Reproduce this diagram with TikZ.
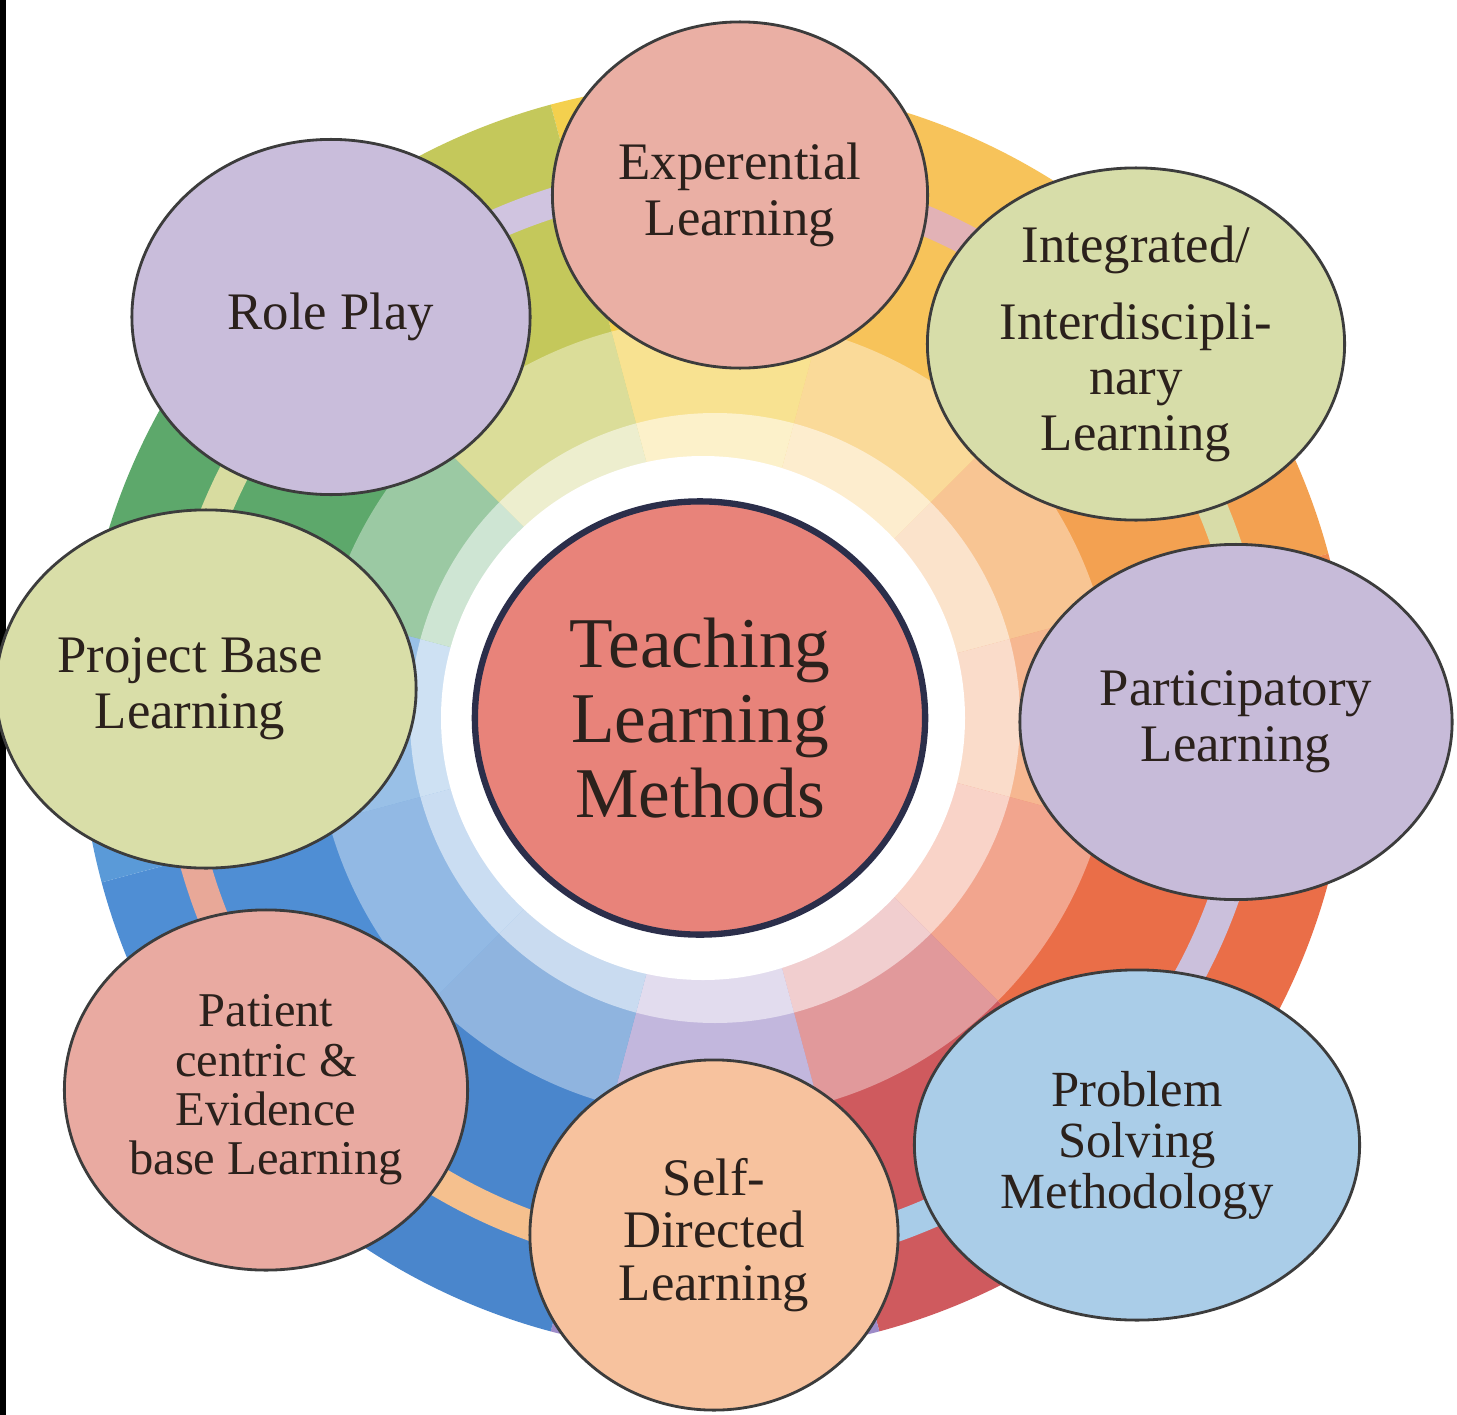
\documentclass[tikz,border=0pt]{standalone}
\usepackage{fontspec}
\setmainfont{Liberation Serif}
\usetikzlibrary{shapes.geometric}
% wheel wedge colours (named by direction)
\definecolor{wA}{HTML}{F4D04E}% 90
\definecolor{wB}{HTML}{F7C35A}% 60
\definecolor{wC}{HTML}{F3A151}% 30
\definecolor{wD}{HTML}{F08A4E}% 0
\definecolor{wE}{HTML}{EA6E48}% -30
\definecolor{wF}{HTML}{CF5A5E}% -60
\definecolor{wG}{HTML}{9D8BC8}% -90
\definecolor{wH}{HTML}{4A86CC}% -120
\definecolor{wI}{HTML}{4F8ED4}% -150
\definecolor{wJ}{HTML}{5A9AD8}% 180
\definecolor{wK}{HTML}{5DA86B}% 150
\definecolor{wL}{HTML}{C4C85B}% 120
% satellite fills
\definecolor{cExp}{HTML}{EAAFA4}
\definecolor{cInt}{HTML}{D7DDA9}
\definecolor{cRole}{HTML}{C9BDDB}
\definecolor{cProj}{HTML}{D9DEA8}
\definecolor{cPart}{HTML}{C7BBD9}
\definecolor{cPat}{HTML}{E9AAA1}
\definecolor{cSelf}{HTML}{F7C29E}
\definecolor{cProb}{HTML}{AACDE8}
\definecolor{cCen}{HTML}{E8837A}
% stripe colours
\definecolor{sRoleC}{HTML}{D0C4E0}
\definecolor{sExpC}{HTML}{E2B2B6}
\definecolor{sIntC}{HTML}{D8DCA8}
\definecolor{sPartC}{HTML}{CBC0DC}
\definecolor{sProbC}{HTML}{A8CCE8}
\definecolor{sSelfC}{HTML}{F5C08E}
\definecolor{sPatC}{HTML}{E8A898}
\definecolor{sProjC}{HTML}{D8DCA0}
\definecolor{edgecol}{HTML}{3C3C3C}
\definecolor{txtcol}{HTML}{2B211C}
\definecolor{cenedge}{HTML}{2B2E4A}
\begin{document}
\begin{tikzpicture}[x=0.01cm,y=0.01cm,
  sat/.style={ellipse, draw=edgecol, line width=0.8pt, inner sep=0pt,
    align=center, text=txtcol, font=\fontsize{15}{15.8}\selectfont},
  ringstripe/.style={line width=0.3cm},
]
\useasboundingbox (0,0) rectangle (1457,-1415);
\fill[white] (0,0) rectangle (1457,-1415);
\fill[black] (0,0) rectangle (6,-1415);
% colour wheel
\begin{scope}[shift={(715,-718)}]
  \foreach \a/\c in {90/wA,60/wB,30/wC,0/wD,-30/wE,-60/wF,-90/wG,-120/wH,-150/wI,180/wJ,150/wK,120/wL}{
    \fill[\c] (0,0) -- (\a+15:635) arc[start angle=\a+15, end angle=\a-15, radius=635] -- cycle;
  }
  \foreach \a/\c in {90/wA,60/wB,30/wC,0/wD,-30/wE,-60/wF,-90/wG,-120/wH,-150/wI,180/wJ,150/wK,120/wL}{
    \fill[\c!62!white] (0,0) -- (\a+15:400) arc[start angle=\a+15, end angle=\a-15, radius=400] -- cycle;
  }
  \foreach \a/\c in {90/wA,60/wB,30/wC,0/wD,-30/wE,-60/wF,-90/wG,-120/wH,-150/wI,180/wJ,150/wK,120/wL}{
    \fill[\c!30!white] (0,0) -- (\a+15:305) arc[start angle=\a+15, end angle=\a-15, radius=305] -- cycle;
  }
  \fill[white] (-12,0) circle[radius=262];
  % ring stripes between satellites
  \coordinate (sRole) at (133.7:540);
  \coordinate (sExp)  at (87.3:540);
  \coordinate (sInt)  at (41.6:540);
  \coordinate (sPart) at (-0.2:540);
  \coordinate (sProb) at (-45.5:540);
  \coordinate (sSelf) at (-90:540);
  \coordinate (sPat)  at (-140.2:540);
  \coordinate (sProj) at (176.9:540);
  \draw[ringstripe, sRoleC] (sRole) arc[start angle=133.7, end angle=87.3, radius=540];
  \draw[ringstripe, sExpC]  (sExp)  arc[start angle=87.3, end angle=41.6, radius=540];
  \draw[ringstripe, sIntC]  (sInt)  arc[start angle=41.6, end angle=-0.2, radius=540];
  \draw[ringstripe, sPartC] (sPart) arc[start angle=-0.2, end angle=-45.5, radius=540];
  \draw[ringstripe, sProbC] (sProb) arc[start angle=-45.5, end angle=-90, radius=540];
  \draw[ringstripe, sSelfC] (sSelf) arc[start angle=-90, end angle=-140.2, radius=540];
  \draw[ringstripe, sPatC]  (sPat)  arc[start angle=-140.2, end angle=-183.1, radius=540];
  \draw[ringstripe, sProjC] (sProj) arc[start angle=176.9, end angle=133.7, radius=540];
\end{scope}
% centre
\node[ellipse, draw=cenedge, line width=1.8pt, fill=cCen, inner sep=0pt,
  minimum width=4.5cm, minimum height=4.33cm, align=center, text=txtcol,
  font=\fontsize{20.3}{21.3}\selectfont] (cen) at (700,-718) {Teaching\\Learning\\Methods};
% satellites
\node[sat, fill=cExp, minimum width=3.75cm, minimum height=3.46cm] (exp) at (740,-195) {Experential\\Learning};
\node[sat, fill=cInt, minimum width=4.17cm, minimum height=3.52cm] (int) at (1136,-344) {Integrated/\\[6pt]Interdiscipli-\\nary\\Learning};
\node[sat, fill=cPart, minimum width=4.32cm, minimum height=3.55cm] (part) at (1236,-722) {Participatory\\Learning};
\node[sat, fill=cProb, minimum width=4.45cm, minimum height=3.5cm, font=\fontsize{14.4}{14.5}\selectfont] (prob) at (1137,-1145) {Problem\\Solving\\Methodology};
\node[sat, fill=cSelf, minimum width=3.68cm, minimum height=3.5cm, font=\fontsize{15}{15}\selectfont] (self) at (714,-1235) {Self-\\Directed\\Learning};
\node[sat, fill=cPat, minimum width=4.03cm, minimum height=3.6cm, font=\fontsize{13.8}{14}\selectfont] (pat) at (266,-1090) {Patient\\centric \&\\Evidence\\base Learning};
\node[sat, fill=cProj, minimum width=4.03cm, minimum height=3.58cm] (proj) at (206,-689) {Project Base\hspace*{0.32cm}\\Learning\hspace*{0.32cm}};
\node[sat, fill=cRole, minimum width=3.98cm, minimum height=3.55cm] (role) at (331,-317) {Role Play};
\end{tikzpicture}
\end{document}
